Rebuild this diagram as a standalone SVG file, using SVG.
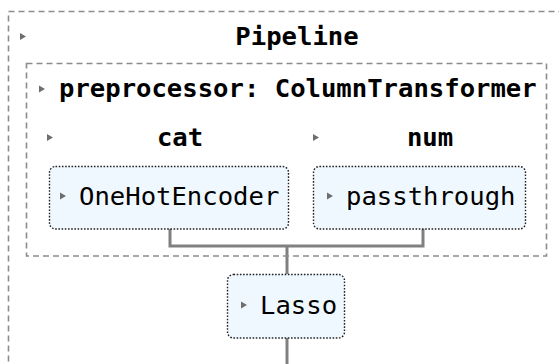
<svg xmlns="http://www.w3.org/2000/svg" width="559" height="364" viewBox="0 0 559 364">
  <defs>
    <style>
      .frame { fill: none; stroke: #8c8c8c; stroke-width: 1.6; stroke-dasharray: 6 4; }
      .est { fill: #f0f8ff; stroke: #222; stroke-width: 1.4; stroke-dasharray: 1.6 1.6; }
      .wire { fill: none; stroke: #808080; stroke-width: 3; }
      .tri { fill: #6e6e6e; }
      .title { font-family: "DejaVu Sans Mono", "Liberation Mono", monospace; font-size: 25.6px; font-weight: bold; fill: #000; }
      .lbl { font-family: "DejaVu Sans Mono", "Liberation Mono", monospace; font-size: 25.6px; fill: #000; }
    </style>
    <path id="caret" d="M0,0 L6,3.5 L0,7 Z"/>
  </defs>

  <rect width="559" height="364" fill="#ffffff"/>

  <!-- connectors -->
  <g id="connectors">
    <path class="wire" d="M170,229 V246 H423 V229"/>
    <path class="wire" d="M287,246 V274"/>
    <path class="wire" d="M287,338 V364"/>
  </g>

  <!-- outer pipeline frame -->
  <g id="pipeline">
    <rect class="frame" x="8.5" y="11.5" width="570" height="380"/>
    <use href="#caret" class="tri" x="20" y="33"/>
    <text class="title" x="297" y="45" text-anchor="middle">Pipeline</text>
  </g>

  <!-- column transformer frame -->
  <g id="preprocessor">
    <rect class="frame" x="26.5" y="63.5" width="520" height="192.5"/>
    <use href="#caret" class="tri" x="39" y="85.5"/>
    <text class="title" x="59" y="97">preprocessor: ColumnTransformer</text>
  </g>

  <g id="cat">
    <use href="#caret" class="tri" x="47" y="134"/>
    <text class="title" x="180" y="146" text-anchor="middle">cat</text>
    <rect class="est" x="49.5" y="166.5" width="239" height="62.5" rx="6"/>
    <use href="#caret" class="tri" x="60" y="192.5"/>
    <text class="lbl" x="79" y="205">OneHotEncoder</text>
  </g>

  <g id="num">
    <use href="#caret" class="tri" x="313" y="134"/>
    <text class="title" x="430" y="146" text-anchor="middle">num</text>
    <rect class="est" x="313.5" y="166.5" width="212" height="62.5" rx="6"/>
    <use href="#caret" class="tri" x="327" y="192.5"/>
    <text class="lbl" x="346" y="205">passthrough</text>
  </g>

  <g id="lasso">
    <rect class="est" x="227.5" y="274.5" width="117" height="63.5" rx="6"/>
    <use href="#caret" class="tri" x="241" y="301.5"/>
    <text class="lbl" x="260" y="314">Lasso</text>
  </g>
</svg>
